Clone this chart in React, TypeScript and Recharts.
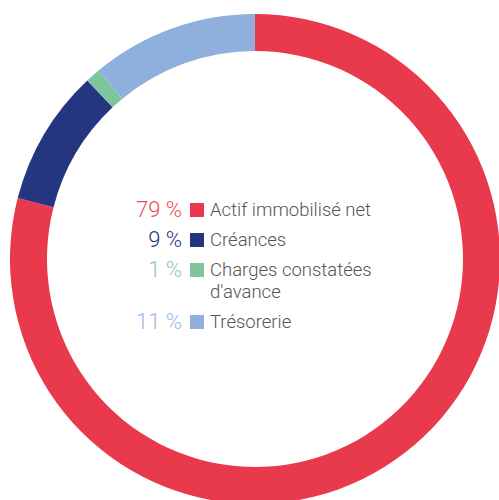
import { PieChart, Pie, Cell } from 'recharts';

const categories = ['Actif immobilisé net', 'Créances', "Charges constatées d'avance", 'Trésorerie'];
const shares = [79, 9, 1, 11];
const colors = ['#e8394d', '#263580', '#80c49b', '#8fb0dc'];

const data = categories.map((name, i) => ({ name, value: shares[i] }));

export default function App() {
    return (
        <div style={{ position: 'absolute', left: 0, top: 0, width: 499, height: 500, overflow: 'hidden', fontFamily: 'Roboto, sans-serif' }}>
            <PieChart width={499} height={500} margin={{ top: 0, right: 0, bottom: 0, left: 0 }}>
                <Pie
                    data={data}
                    dataKey="value"
                    cx={255}
                    cy={259}
                    innerRadius={208}
                    outerRadius={245}
                    startAngle={90}
                    endAngle={-270}
                    stroke="none"
                    isAnimationActive={false}
                >
                    {data.map((d, i) => (
                        <Cell key={d.name} fill={colors[i]} />
                    ))}
                </Pie>
            </PieChart>
            {/* legend in the middle of the ring */}
            <div style={{ position: 'absolute', left: 102, top: 199, display: 'flex', flexDirection: 'column', gap: 8 }}>
                {data.map((d, i) => (
                    <div key={d.name} style={{ display: 'flex', alignItems: 'flex-start', lineHeight: '22px', fontWeight: 300 }}>
                        <span style={{ width: 80, textAlign: 'right', fontSize: 22, color: colors[i], opacity: i === 1 ? 1 : 0.9 }}>
                            {d.value} %
                        </span>
                        <span style={{ width: 14, height: 14, marginTop: 4, marginLeft: 8, background: colors[i], flex: 'none' }} />
                        <span style={{ marginLeft: 6, width: 172, fontSize: 18.5, color: '#555' }}>{d.name}</span>
                    </div>
                ))}
            </div>
        </div>
    );
}
